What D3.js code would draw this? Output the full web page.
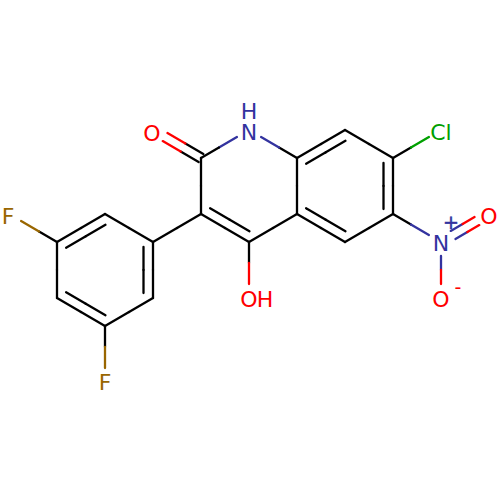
<!DOCTYPE html>
<html lang="en">
<head>
    <meta charset="UTF-8">
    <title>Molecule</title>
    <script src="https://d3js.org/d3.v7.min.js"></script>
    <style>
        html, body { margin: 0; padding: 0; background: #fff; }
        svg { display: block; }
        text { font-family: "DejaVu Sans", sans-serif; font-size: 22px; text-anchor: middle; }
    </style>
</head>
<body>
    <div id="chart"></div>

    <script>
        // Atoms on the drawing's hex lattice: [id, element, column, row]
        const atoms = [
            ["N1", "N", 5, 0], ["C2", "C", 4, 1], ["C3", "C", 4, 3], ["C4", "C", 5, 4],
            ["C4a", "C", 6, 3], ["C5", "C", 7, 4], ["C6", "C", 8, 3], ["C7", "C", 8, 1],
            ["C8", "C", 7, 0], ["C8a", "C", 6, 1],
            ["O2", "O", 3, 0], ["O4", "O", 5, 6], ["Cl", "Cl", 9, 0],
            ["Nn", "N", 9, 4], ["On1", "O", 10, 3], ["On2", "O", 9, 6],
            ["P1", "C", 3, 4], ["P2", "C", 2, 3], ["P3", "C", 1, 4],
            ["P4", "C", 1, 6], ["P5", "C", 2, 7], ["P6", "C", 3, 6],
            ["F1", "F", 0, 3], ["F2", "F", 2, 9]
        ];

        // Bonds: [from, to, order, side of the inner line (0 = centred double)]
        const bonds = [
            ["N1", "C2", 1, 0], ["C2", "C3", 1, 0], ["C3", "C4", 2, -1], ["C4", "C4a", 1, 0],
            ["C4a", "C8a", 1, 0], ["C8a", "N1", 1, 0], ["C4a", "C5", 2, -1], ["C5", "C6", 1, 0],
            ["C6", "C7", 2, -1], ["C7", "C8", 1, 0], ["C8", "C8a", 2, -1],
            ["C2", "O2", 2, 0], ["C4", "O4", 1, 0], ["C7", "Cl", 1, 0], ["C6", "Nn", 1, 0],
            ["Nn", "On1", 2, 0], ["Nn", "On2", 1, 0], ["C3", "P1", 1, 0],
            ["P1", "P2", 1, 0], ["P2", "P3", 2, -1], ["P3", "P4", 1, 0],
            ["P4", "P5", 2, -1], ["P5", "P6", 1, 0], ["P6", "P1", 2, -1],
            ["P3", "F1", 1, 0], ["P5", "F2", 1, 0]
        ];

        // Labels: [text, element, column, row, dx, dy]
        const labels = [
            ["N", "N", 5, 0, 0, 2], ["H", "N", 5, 0, 0, -19],
            ["O", "O", 3, 0, -1, 3], ["O", "O", 5, 6, 0, 1], ["H", "O", 5, 6, 16, 1],
            ["Cl", "Cl", 9, 0, 0, 2], ["N", "N", 9, 4, 0, 1],
            ["O", "O", 10, 3, 0, 2], ["O", "O", 9, 6, 0, 1],
            ["F", "F", 0, 3, -1, 2], ["F", "F", 2, 9, 0, 0]
        ];

        // Formal charges: [text, element, column, row, dx, dy]
        const charges = [["+", "N", 9, 4, 10, -13], ["-", "O", 9, 6, 17, -4]];

        const colors = { C: "#000000", N: "#33339f", O: "#ff0000", Cl: "#00a000", F: "#996600" };

        const width = 500, height = 500;

        const x = d3.scaleLinear().domain([0, 10]).range([9, 489]);
        const y = d3.scaleLinear().domain([0, 9]).range([130, 382]);

        const labelGap = 14, doubleGap = 4.7, innerGap = 9.5, innerTrim = 5;

        const svg = d3.select("#chart")
            .append("svg")
            .attr("width", width)
            .attr("height", height);

        const atomById = new Map(atoms.map(a => [a[0], { el: a[1], x: x(a[2]), y: y(a[3]) }]));

        // Each bond becomes one or two strokes, and each stroke two halves coloured by its atom
        const segments = [];
        function addStroke(a, b, offset, trim) {
            const len = Math.hypot(b.x - a.x, b.y - a.y);
            const ux = (b.x - a.x) / len, uy = (b.y - a.y) / len;
            const nx = -uy * offset, ny = ux * offset;
            const t0 = a.el === "C" ? trim : labelGap;
            const t1 = b.el === "C" ? trim : labelGap;
            const p0 = [a.x + ux * t0 + nx, a.y + uy * t0 + ny];
            const p1 = [b.x - ux * t1 + nx, b.y - uy * t1 + ny];
            const mid = [(p0[0] + p1[0]) / 2, (p0[1] + p1[1]) / 2];
            segments.push({ p0: p0, p1: mid, color: colors[a.el] });
            segments.push({ p0: mid, p1: p1, color: colors[b.el] });
        }

        bonds.forEach(([from, to, order, side]) => {
            const a = atomById.get(from), b = atomById.get(to);
            if (order === 1) {
                addStroke(a, b, 0, 0);
            } else if (side === 0) {
                addStroke(a, b, doubleGap, 0);
                addStroke(a, b, -doubleGap, 0);
            } else {
                addStroke(a, b, 0, 0);
                addStroke(a, b, side * innerGap, innerTrim);
            }
        });

        svg.append("g")
            .selectAll("line")
            .data(segments)
            .enter()
            .append("line")
            .attr("x1", d => d.p0[0])
            .attr("y1", d => d.p0[1])
            .attr("x2", d => d.p1[0])
            .attr("y2", d => d.p1[1])
            .attr("stroke", d => d.color)
            .attr("stroke-width", 2.3)
            .attr("stroke-linecap", "round");

        svg.append("g")
            .selectAll("text")
            .data(labels)
            .enter()
            .append("text")
            .attr("x", d => x(d[2]) + d[4])
            .attr("y", d => y(d[3]) + d[5] + 8)
            .attr("fill", d => colors[d[1]])
            .text(d => d[0]);

        // Charges sit a little heavier than plain text in the reference
        svg.append("g")
            .selectAll("text")
            .data(charges)
            .enter()
            .append("text")
            .attr("x", d => x(d[2]) + d[4])
            .attr("y", d => y(d[3]) + d[5])
            .attr("fill", d => colors[d[1]])
            .attr("stroke", d => d[0] === "+" ? colors[d[1]] : "none")
            .attr("stroke-width", 0.5)
            .style("font-size", "19px")
            .text(d => d[0]);
    </script>
</body>
</html>
